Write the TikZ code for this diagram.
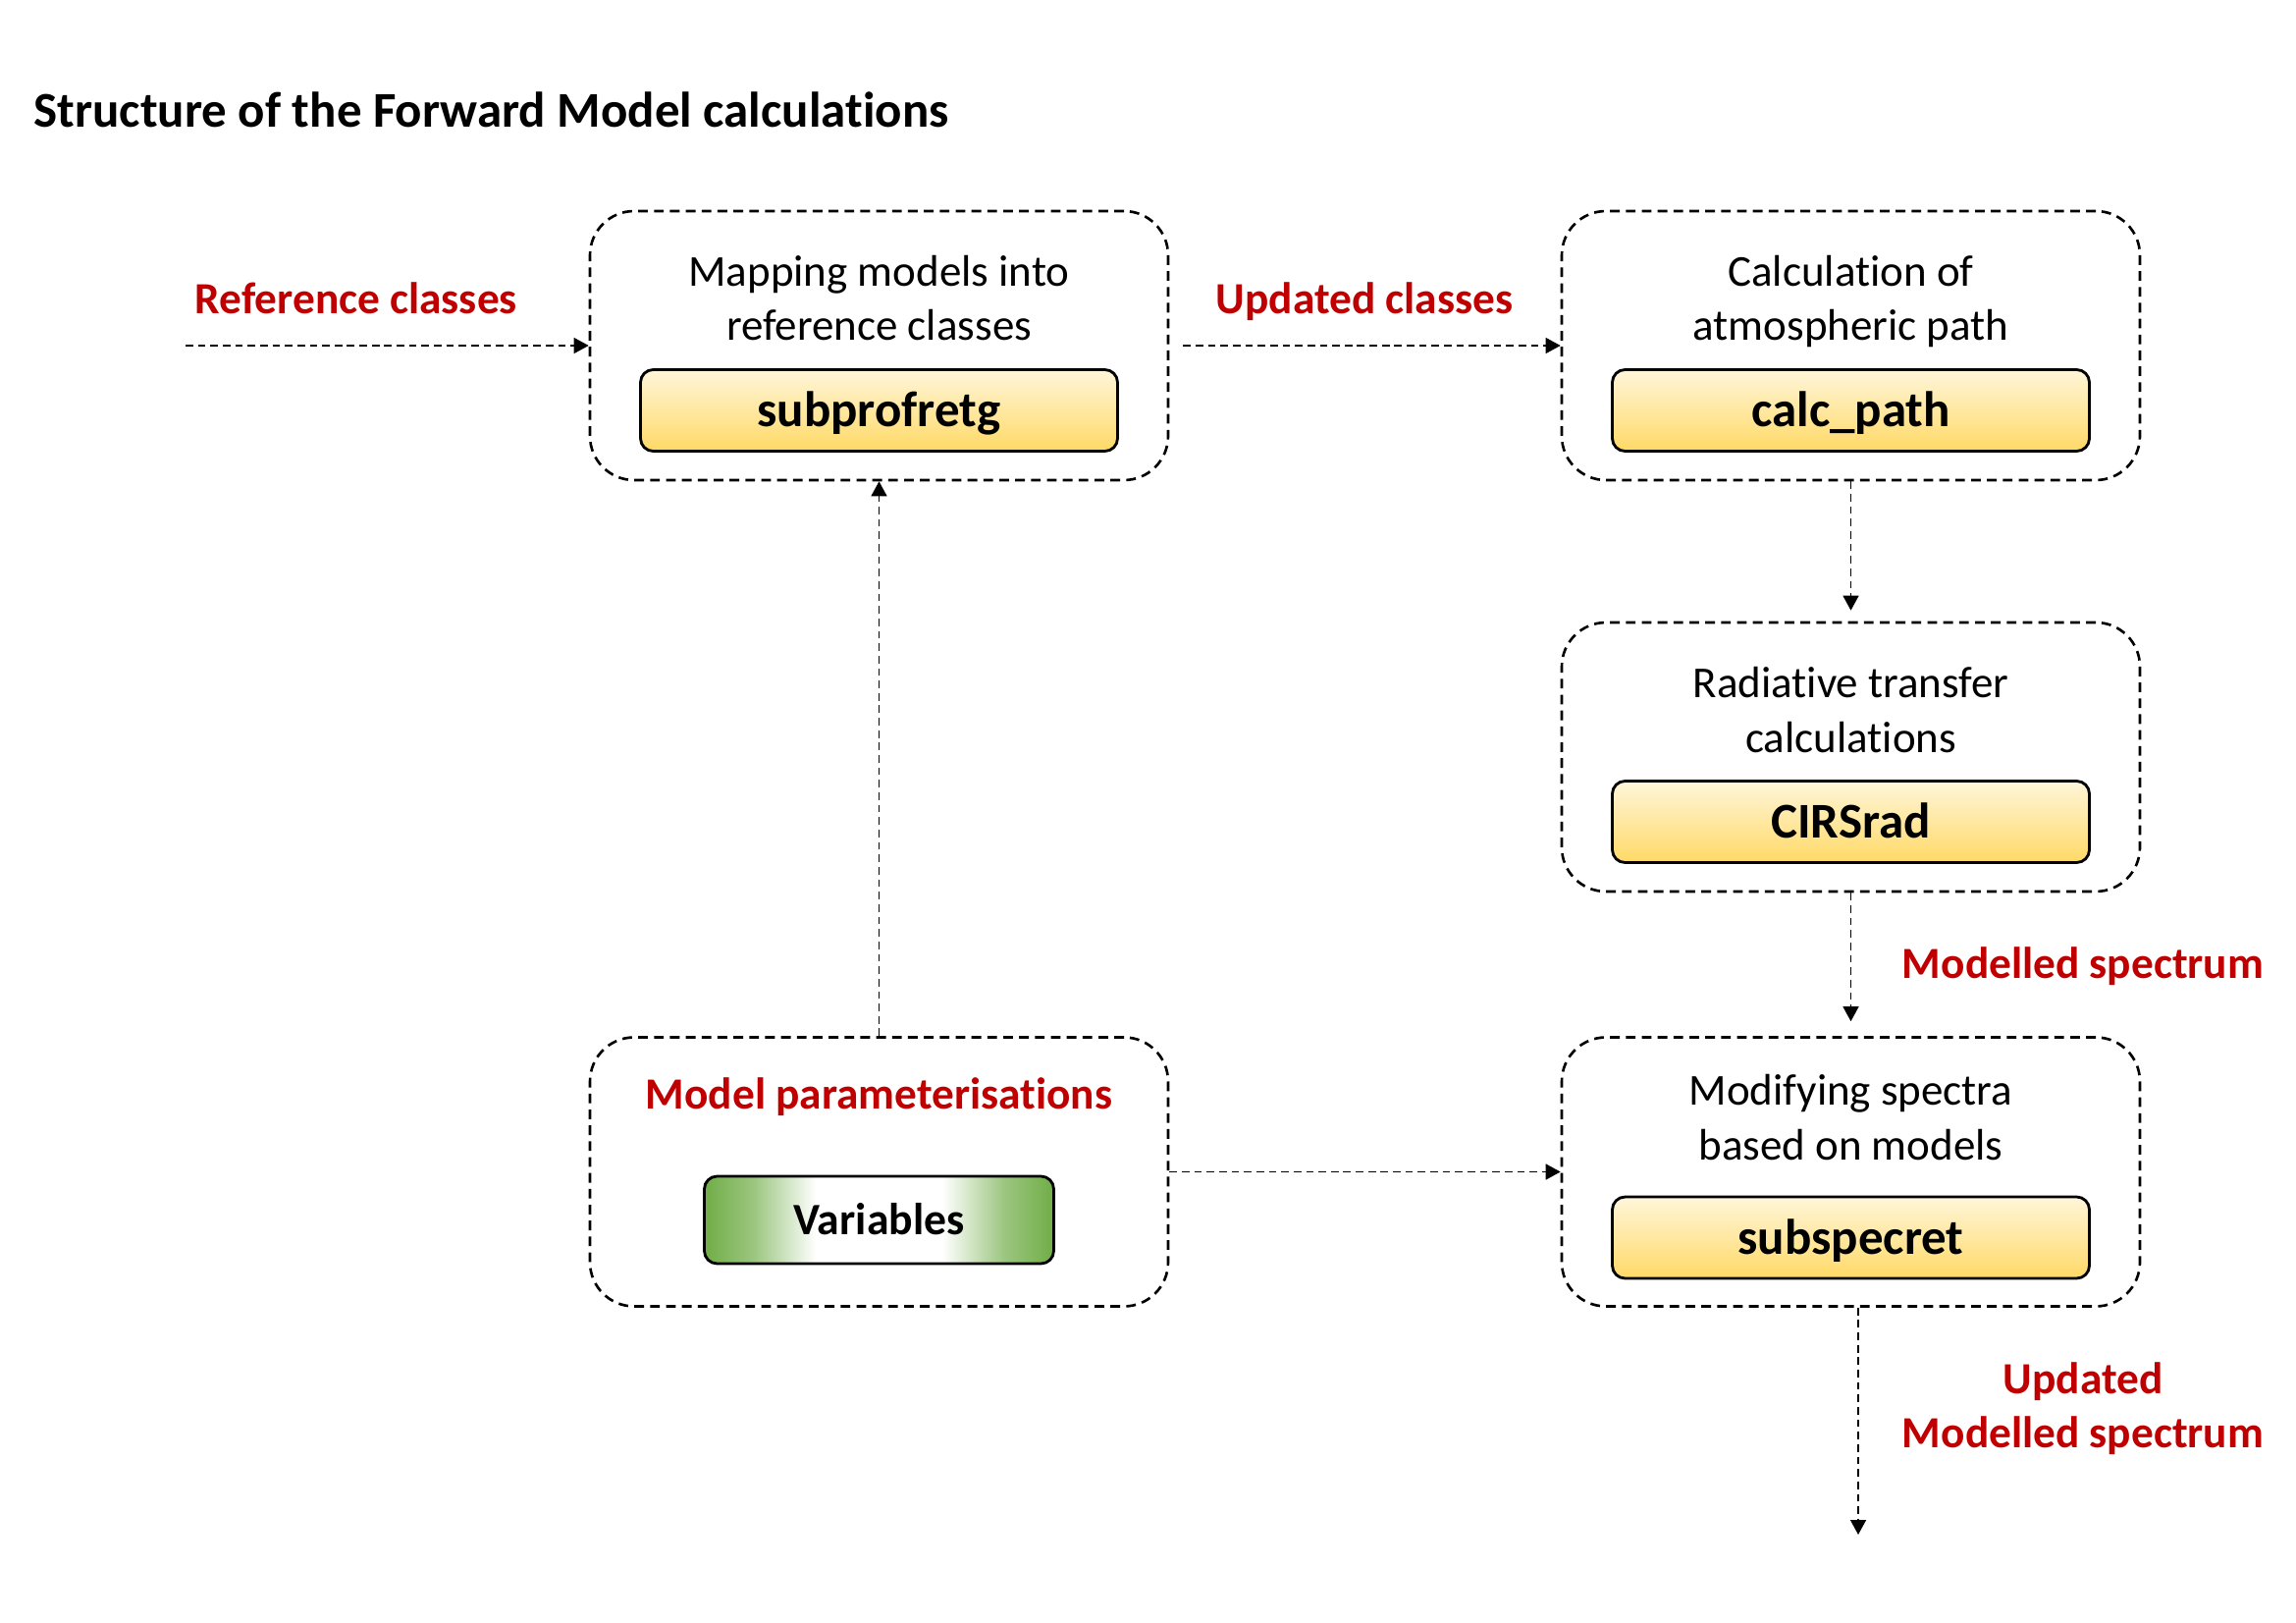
\documentclass[tikz,border=0pt]{standalone}
\usepackage{fontspec}
\setmainfont{Carlito}[Ligatures=NoCommon]
\usetikzlibrary{arrows.meta}
\definecolor{darkred}{HTML}{C00000}
\definecolor{goldtop}{HTML}{FFF6DA}
\definecolor{goldbot}{HTML}{FFD966}
\definecolor{leafgreen}{HTML}{70AD47}
\pgfdeclarehorizontalshading{greenband}{100bp}{color(0bp)=(leafgreen); color(25bp)=(leafgreen);
  color(32bp)=(leafgreen!70); color(41bp)=(white); color(59bp)=(white);
  color(68bp)=(leafgreen!70); color(75bp)=(leafgreen); color(100bp)=(leafgreen)}
\tikzset{
  outerbox/.style={draw, line width=0.75pt, dash pattern=on 2.8pt off 1.8pt,
    rounded corners=4.5mm, minimum width=58.9mm, minimum height=27.4mm},
  funcbox/.style={draw, line width=0.8pt, rounded corners=1.3mm,
    top color=goldtop, bottom color=goldbot, minimum width=48.6mm,
    minimum height=8.3mm, text height=9.6pt, text depth=0pt,
    font=\fontsize{14.5}{17}\selectfont\bfseries},
  varbox/.style={draw, line width=0.8pt, rounded corners=1.3mm,
    shading=greenband, minimum width=35.6mm, minimum height=8.9mm,
    text height=8.4pt, text depth=0pt,
    font=\fontsize{13}{15}\selectfont\bfseries},
  headtext/.style={align=center, anchor=base, font=\fontsize{12.8}{15.7}\selectfont},
  redlabel/.style={text=darkred, align=center,
    font=\fontsize{12.9}{15.7}\selectfont\bfseries},
  flow/.style={line width=0.4pt, dash pattern=on 2.2pt off 1.4pt,
    -{Triangle[width=1.6mm,length=1.5mm]}}
}
\begin{document}
\begin{tikzpicture}[x=0.1mm, y=-0.1mm]
    \useasboundingbox (0,0) rectangle (2339,1653);
    \node[anchor=west, inner sep=0pt, font=\fontsize{14.5}{17}\selectfont\bfseries] (title) at (34,112) {Structure of the Forward Model calculations};
    % boxes
    \node[outerbox] (map) at (895.5,352) {};
    \node[headtext] (maphead) at (895.5,347) {Mapping models into\\reference classes};
    \node[funcbox] (subprof) at (895.5,418) {subprofretg};
    \node[outerbox] (path) at (1885.5,352) {};
    \node[headtext] (pathhead) at (1885.5,347) {Calculation of\\atmospheric path};
    \node[funcbox] (calcpath) at (1885.5,418) {calc\_path};
    \node[outerbox] (rad) at (1885.5,771) {};
    \node[headtext] (radhead) at (1885.5,766) {Radiative transfer\\calculations};
    \node[funcbox] (cirsrad) at (1885.5,837) {CIRSrad};
    \node[outerbox] (spec) at (1885.5,1193.5) {};
    \node[headtext] (spechead) at (1885.5,1181) {Modifying spectra\\based on models};
    \node[funcbox] (subspec) at (1885.5,1260.5) {subspecret};
    \node[outerbox] (param) at (895.5,1193.5) {};
    \node[redlabel] (paramhead) at (895.5,1117) {Model parameterisations};
    \node[varbox] (vars) at (895.5,1242.5) {Variables};
    % labels
    \node[redlabel] (reflabel) at (363,304) {Reference classes};
    \node[redlabel] (updlabel) at (1390,307) {Updated classes};
    \node[redlabel] (modlabel) at (2122,984) {Modelled spectrum};
    \node[redlabel] (updmodlabel) at (2122,1435) {Updated\\Modelled spectrum};
    % connectors
    \coordinate (refin) at (189,352);
    \coordinate (specout) at (1893,1563);
    \draw[flow] (refin) -- (map.west);
    \draw[flow, shorten <=1.4mm] (map.east) -- (path.west);
    \draw[flow, shorten >=1.1mm] (path.south) -- (rad.north);
    \draw[flow, shorten >=1.5mm] (rad.south) -- (spec.north);
    \draw[flow] (param.north) -- (map.south);
    \draw[flow] (param.east) -- (spec.west);
    \draw[flow] (spec.south -| specout) -- (specout);
\end{tikzpicture}
\end{document}
